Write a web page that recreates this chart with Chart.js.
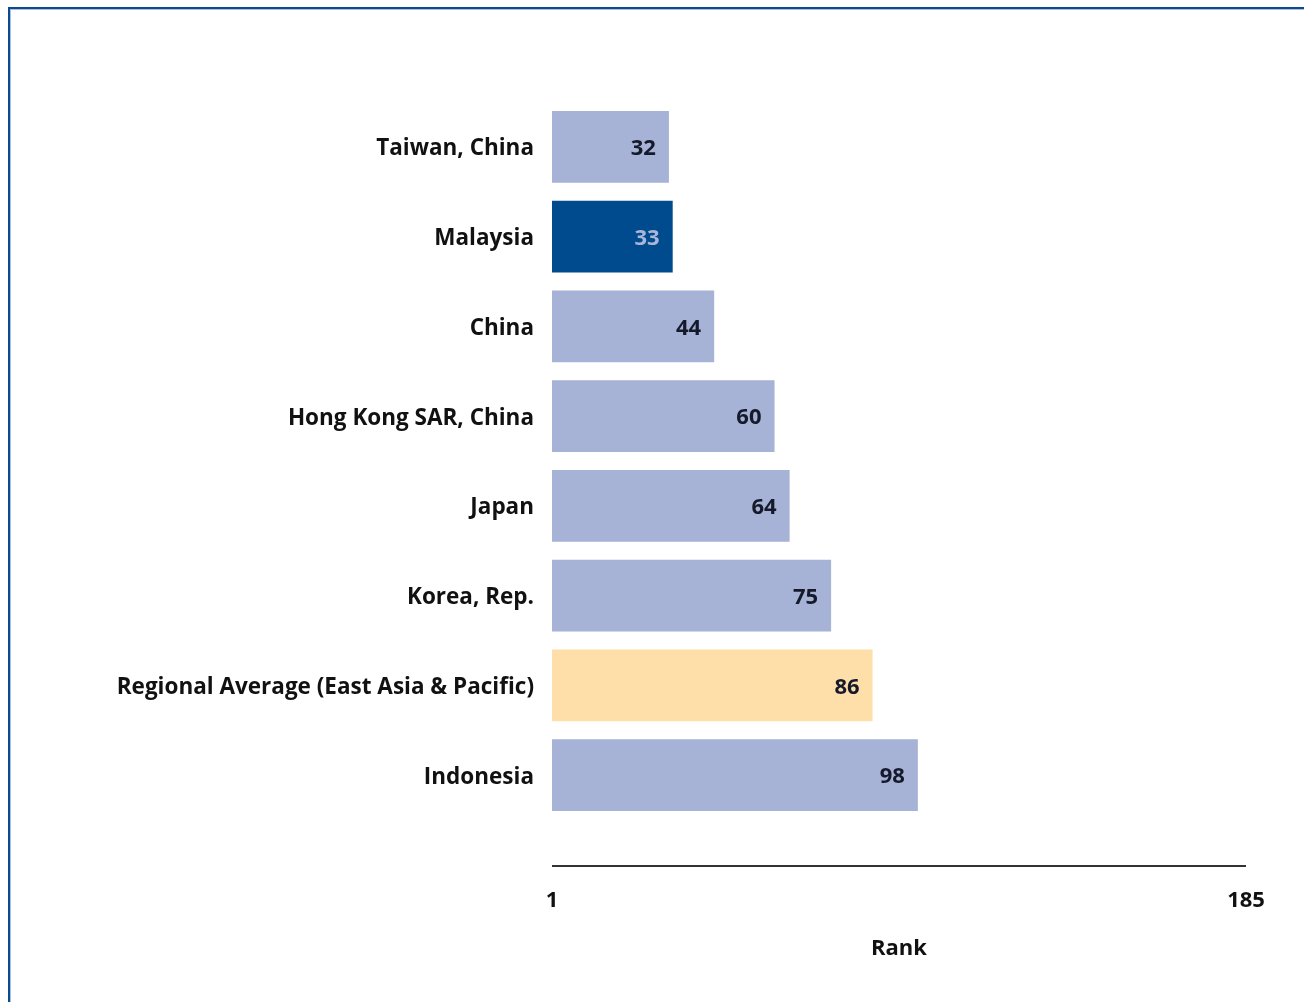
<!DOCTYPE html>
<html>
<head>
<meta charset="utf-8">
<script src="https://cdn.jsdelivr.net/npm/chart.js@4.4.1/dist/chart.umd.min.js"></script>
<style>
  html, body { margin: 0; padding: 0; background: #fff; overflow: hidden; }
  #wrap { position: relative; width: 1304px; height: 1002px; }
  #frame { position: absolute; left: 8px; top: 7px; width: 1400px; height: 1100px;
           border-top: 2px solid #0b4a8e; border-left: 2px solid #0b4a8e; }
  #frame2 { position: absolute; left: 0; top: 0; right: 0; bottom: 0;
           border-top: 1px solid #a9c1e0; border-left: 1px solid #a9c1e0; }
  canvas { position: absolute; left: 0; top: 0; }
</style>
</head>
<body>
<div id="wrap">
  <div id="frame"><div id="frame2"></div></div>
  <canvas id="c" width="1304" height="1002"></canvas>
</div>
<script>
const categories = ["Taiwan, China", "Malaysia", "China", "Hong Kong SAR, China", "Japan", "Korea, Rep.", "Regional Average (East Asia & Pacific)", "Indonesia"];
const ranks = [32, 33, 44, 60, 64, 75, 86, 98];
const barColors = ["#a6b2d6", "#004a8e", "#a6b2d6", "#a6b2d6", "#a6b2d6", "#a6b2d6", "#fedfa9", "#a6b2d6"];
const labelColors = ["#151a2a", "#a9b6d8", "#151a2a", "#151a2a", "#151a2a", "#151a2a", "#151a2a", "#151a2a"];
const tickValues = [1, 185];
const axisTitle = "Rank";

const FONT = "'Open Sans', 'DejaVu Sans', sans-serif";

const valueLabels = {
  id: 'valueLabels',
  afterDatasetsDraw(chart) {
    const ctx = chart.ctx;
    const meta = chart.getDatasetMeta(0);
    ctx.save();
    ctx.font = "bold 22px " + FONT;
    ctx.textAlign = 'right';
    ctx.textBaseline = 'middle';
    meta.data.forEach((bar, i) => {
      ctx.fillStyle = labelColors[i];
      ctx.fillText(String(ranks[i]), bar.x - 13, bar.y + 2);
    });
    ctx.restore();
  }
};

const axisLine = {
  id: 'axisLine',
  afterDraw(chart) {
    const x = chart.scales.x;
    const ctx = chart.ctx;
    const y = chart.chartArea.bottom + 46;
    ctx.save();
    ctx.strokeStyle = '#333333';
    ctx.lineWidth = 2;
    ctx.beginPath();
    ctx.moveTo(x.getPixelForValue(tickValues[0]), y);
    ctx.lineTo(x.getPixelForValue(tickValues[tickValues.length - 1]), y);
    ctx.stroke();
    ctx.restore();
  }
};

new Chart(document.getElementById('c'), {
  type: 'bar',
  data: {
    labels: categories,
    datasets: [{
      data: ranks,
      base: 1,
      backgroundColor: barColors,
      borderWidth: 0,
      barPercentage: 0.8,
      categoryPercentage: 1.0
    }]
  },
  options: {
    indexAxis: 'y',
    responsive: false,
    animation: false,
    layout: { padding: { left: 0, right: 58, top: 102, bottom: 40 } },
    plugins: { legend: { display: false }, tooltip: { enabled: false } },
    scales: {
      y: {
        grid: { display: false, drawTicks: false },
        border: { display: false },
        ticks: { color: '#111111', font: { family: FONT, size: 22.5, weight: 'bold' }, padding: 18, labelOffset: 2 },
        afterFit(scale) { scale.width = 552; scale.paddingTop = 0; scale.paddingBottom = 0; }
      },
      x: {
        min: tickValues[0],
        max: tickValues[tickValues.length - 1],
        grid: { display: false, drawTicks: false },
        border: { display: false },
        afterBuildTicks(scale) { scale.ticks = tickValues.map(v => ({ value: v })); },
        ticks: { color: '#111111', font: { family: FONT, size: 22, weight: 'bold' }, padding: 68, maxRotation: 0, autoSkip: false },
        title: { display: true, text: axisTitle, color: '#111111', font: { family: FONT, size: 22, weight: 'bold' }, padding: { top: 24, bottom: 0 } },
        afterFit(scale) { scale.height = 142; scale.paddingLeft = 0; scale.paddingRight = 0; }
      }
    }
  },
  plugins: [valueLabels, axisLine]
});
</script>
</body>
</html>
